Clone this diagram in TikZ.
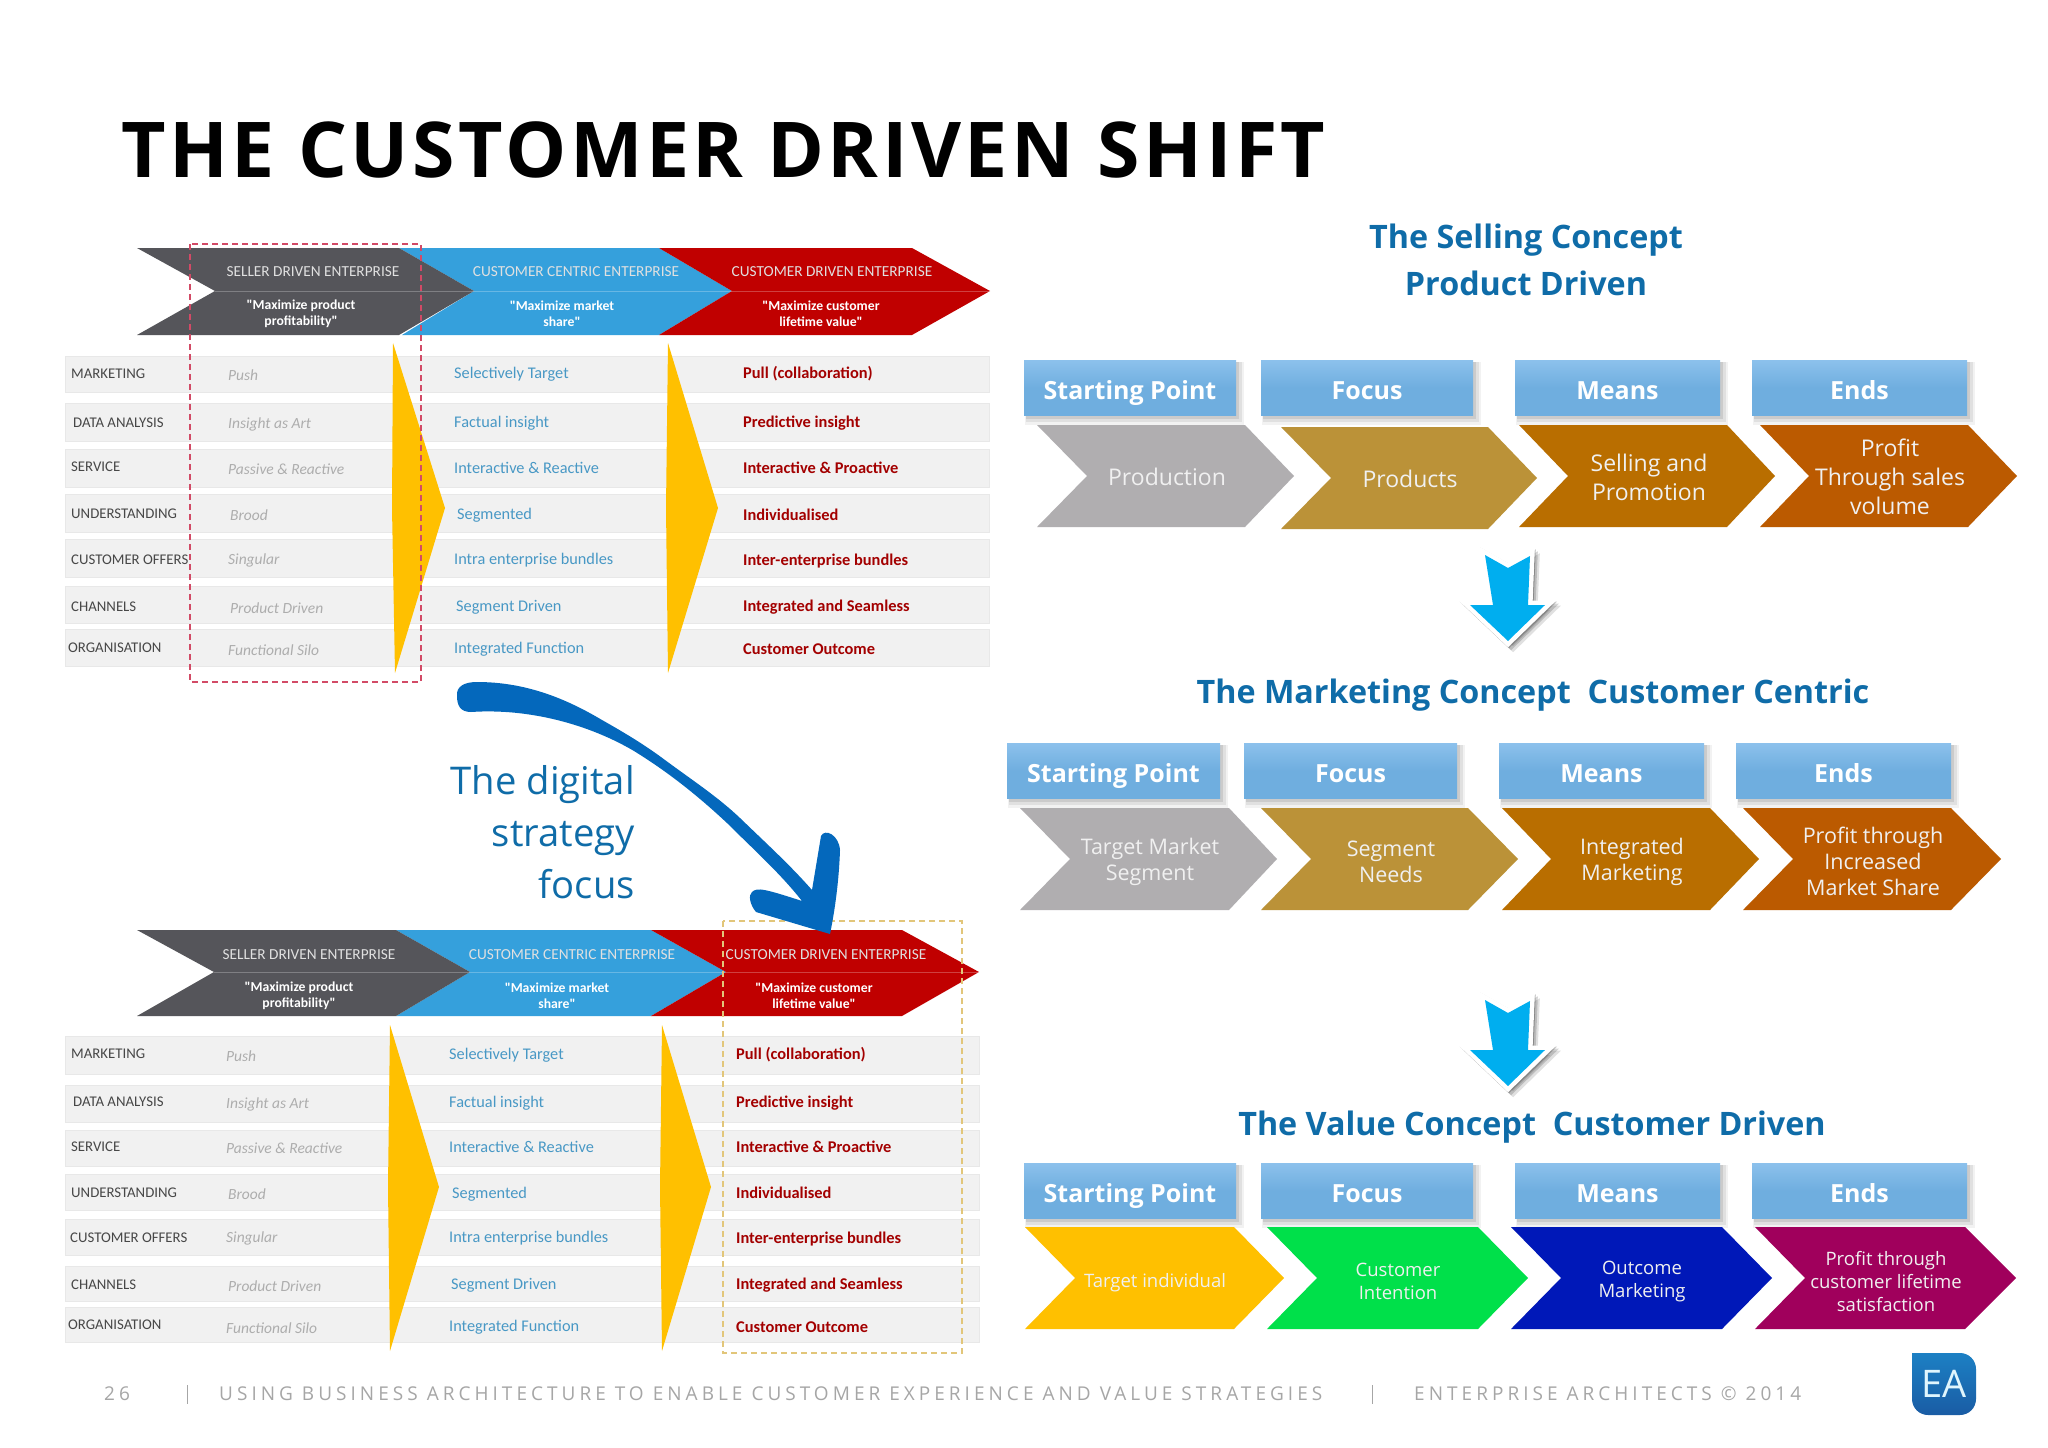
\documentclass[tikz,border=0pt]{standalone}
\usepackage{fontspec}
\setmainfont{Open Sans}
\newfontfamily\carl{Carlito}
\usetikzlibrary{shapes.geometric}
\definecolor{gb}{HTML}{55555A}
\definecolor{bb}{HTML}{35A0DC}
\definecolor{rb}{HTML}{C00000}
\definecolor{yel}{HTML}{FFC000}
\definecolor{headblue}{HTML}{0F6CA8}
\definecolor{bigblue}{HTML}{0468BC}
\definecolor{rowf}{HTML}{F1F1F1}
\definecolor{hdt}{HTML}{8CC1EC}
\definecolor{hdb}{HTML}{6FAEDF}
\definecolor{c1}{HTML}{B0AEB0}
\definecolor{c2}{HTML}{BB9238}
\definecolor{c3}{HTML}{B96E00}
\definecolor{c4}{HTML}{BB5A00}
\definecolor{foot}{HTML}{A6A6A6}
\definecolor{dn}{HTML}{00AEEF}
\definecolor{vgreen}{HTML}{00E04A}
\definecolor{vblue}{HTML}{0018B8}
\definecolor{vmag}{HTML}{A0005C}
\definecolor{reddash}{HTML}{D24A66}
\definecolor{tandash}{HTML}{E2C67A}
\definecolor{logot}{HTML}{1C80C4}
\definecolor{logob}{HTML}{1A5CA4}
\tikzset{
  lab/.style={anchor=west,inner sep=0pt,text=black!72,font=\carl\fontsize{14.8}{16}\selectfont},
  cola/.style={anchor=west,inner sep=0pt,text=black!32,font=\carl\itshape\fontsize{15.5}{17}\selectfont},
  colb/.style={anchor=west,inner sep=0pt,text=bb!75!gray,font=\carl\fontsize{16.3}{18}\selectfont},
  colc/.style={anchor=west,inner sep=0pt,text=rb!85!black,font=\carl\bfseries\fontsize{16.4}{18}\selectfont},
  bant/.style={inner sep=0pt,text=white!88!black,font=\carl\fontsize{15.3}{17}\selectfont},
  bans/.style={inner sep=0pt,text=white,align=center,font=\carl\bfseries\fontsize{13.7}{16}\selectfont},
  heading/.style={inner sep=0pt,text=headblue,align=center,font=\bfseries\fontsize{32.3}{47}\selectfont},
  hdrt/.style={inner sep=0pt,anchor=base,text=white,font=\bfseries\fontsize{25}{28}\selectfont},
  chevt/.style={inner sep=0pt,text=white!94!black,align=center,font=\fontsize{23}{29}\selectfont},
  chevm/.style={inner sep=0pt,text=white!94!black,align=center,font=\fontsize{21.5}{26}\selectfont},
  chevs/.style={inner sep=0pt,text=white!94!black,align=center,font=\fontsize{18.5}{23}\selectfont},
  foott/.style={inner sep=0pt,anchor=west,text=foot,font=\fontsize{19}{22}\selectfont\addfontfeature{LetterSpace=21.2}},
}
\newcommand\hdr[6]{%
  \fill[black,opacity=.05] (#2+1,#3+2) rectangle (#4+8,#5+10);
  \fill[black,opacity=.07] (#2+2,#3+2) rectangle (#4+6,#5+7);
  \fill[black,opacity=.09] (#2+2,#3+2) rectangle (#4+3,#5+4);
  \path[top color=hdt,bottom color=hdb,middle color=hdb] (#2,#3) rectangle (#4,#5);
  \node[hdrt] (#1) at ({(#2+#4)/2},{#5-16}) {#6};
}
\newcommand\chev[8]{\fill[#8] (#1,#5) -- (#2,#5) -- (#3,#6) -- (#2,#7) -- (#1,#7) -- (#4,#6) -- cycle;}
\newcommand\dnarrow[1]{%
  \begin{scope}[shift={(0,#1)}]
    \foreach \s/\o in {5/.12,3/.16,1/.2}
      \draw[black,opacity=\o,line width=9pt,line join=miter,fill=black] (1485+\s,1000+\s) -- (1508+\s,1013+\s) -- (1530+\s,1001+\s) -- (1528+\s,1050+\s) -- (1545+\s,1050+\s) -- (1508+\s,1086+\s) -- (1470+\s,1050+\s) -- (1493+\s,1050+\s) -- cycle;
    \draw[white,line width=9pt,line join=miter,fill=white] (1485,1000) -- (1508,1013) -- (1530,1001) -- (1528,1050) -- (1545,1050) -- (1508,1086) -- (1470,1050) -- (1493,1050) -- cycle;
    \fill[dn] (1485,1000) -- (1508,1013) -- (1530,1001) -- (1528,1050) -- (1545,1050) -- (1508,1086) -- (1470,1050) -- (1493,1050) -- cycle;
  \end{scope}}
\begin{document}
\begin{tikzpicture}[x=1pt,y=-1pt]
\useasboundingbox (0,0) rectangle (2048,1448);
\fill[white] (0,0) rectangle (2048,1448);
\node[inner sep=0pt,anchor=base west,font=\bfseries\fontsize{77}{80}\selectfont\addfontfeature{LetterSpace=4.6},text=black] (title) at (121,177) {THE CUSTOMER DRIVEN SHIFT};

% ---------- upper table
\foreach \a/\b in {356/392,403/441,449/487,494/532,539/577,586/623,629/666}
  \fill[rowf,draw=black!9,line width=.8pt] (65,\a) rectangle (989,\b);
\fill[yel] (393,343) -- (445,508) -- (395,673) -- (392,508) -- cycle;
\fill[yel] (668,343) -- (718,508) -- (668,673) -- (666,508) -- cycle;
\fill[bb] (399,248) -- (659,248) -- (732,291) -- (659,335) -- (402,335) -- (474,291) -- cycle;
\fill[rb] (659,248) -- (912,248) -- (990,291) -- (912,335) -- (659,335) -- (732,291) -- cycle;
\fill[gb] (137,248) -- (399,248) -- (474,291) -- (399,335) -- (137,335) -- (215,291) -- cycle;
\draw[white,opacity=.25,line width=1pt] (215,291) -- (990,291);
\node[bant] (ua) at (313,272) {SELLER DRIVEN ENTERPRISE};
\node[bant] (ub) at (576,272) {CUSTOMER CENTRIC ENTERPRISE};
\node[bant] (uc) at (832,272) {CUSTOMER DRIVEN ENTERPRISE};
\node[bans] (us1) at (301,314) {"Maximize product\\profitability"};
\node[bans] (us2) at (562,314) {"Maximize market\\share"};
\node[bans] (us3) at (821,314) {"Maximize customer\\lifetime value"};
\foreach \n/\x/\y/\t in {1/71/374/MARKETING,2/73/423/DATA ANALYSIS,3/71/467/SERVICE,4/71/514/UNDERSTANDING,5/71/560/CUSTOMER OFFERS,6/71/607/CHANNELS,7/68/648/ORGANISATION}
  \node[lab] (ul\n) at (\x,\y) {\t};
\foreach \n/\x/\y/\t in {1/228/375/Push,2/228/424/Insight as Art,3/228/469/Passive \& Reactive,4/230/515/Brood,5/228/560/Singular,6/230/608/Product Driven,7/228/650/Functional Silo}
  \node[cola] (um\n) at (\x,\y) {\t};
\foreach \n/\x/\y/\t in {1/454/374/Selectively Target,2/454/423/Factual insight,3/454/468/Interactive \& Reactive,4/457/515/Segmented,5/454/560/Intra enterprise bundles,6/456/607/Segment Driven,7/454/649/Integrated Function}
  \node[colb] (un\n) at (\x,\y) {\t};
\foreach \n/\y/\t in {1/374/Pull (collaboration),2/423/Predictive insight,3/468/Interactive \& Proactive,4/515/Individualised,5/561/Inter-enterprise bundles,6/607/Integrated and Seamless,7/649/Customer Outcome}
  \node[colc] (uo\n) at (743,\y) {\t};
\draw[reddash,line width=1.6pt,dash pattern=on 6pt off 4pt] (190,244) rectangle (421,682);

% ---------- lower table
\foreach \a/\b in {1036/1074,1085/1122,1130/1166,1174/1210,1219/1255,1266/1301,1307/1342}
  \fill[rowf,draw=black!9,line width=.8pt] (65,\a) rectangle (979,\b);
\fill[yel] (390,1025) -- (439,1187) -- (390,1351) -- (388,1187) -- cycle;
\fill[yel] (662,1025) -- (711,1187) -- (662,1351) -- (660,1187) -- cycle;
\fill[bb] (396,930) -- (651,930) -- (726,972) -- (651,1016) -- (396,1016) -- (470,972) -- cycle;
\fill[rb] (651,930) -- (902,930) -- (979,972) -- (902,1016) -- (651,1016) -- (726,972) -- cycle;
\fill[gb] (137,930) -- (396,930) -- (470,972) -- (396,1016) -- (137,1016) -- (214,972) -- cycle;
\draw[white,opacity=.25,line width=1pt] (214,972) -- (979,972);
\node[bant] (la) at (309,955) {SELLER DRIVEN ENTERPRISE};
\node[bant] (lb) at (572,955) {CUSTOMER CENTRIC ENTERPRISE};
\node[bant] (lc) at (826,955) {CUSTOMER DRIVEN ENTERPRISE};
\node[bans] (ls1) at (299,996) {"Maximize product\\profitability"};
\node[bans] (ls2) at (557,996) {"Maximize market\\share"};
\node[bans] (ls3) at (814,996) {"Maximize customer\\lifetime value"};
\foreach \n/\x/\y/\t in {1/71/1054/MARKETING,2/73/1102/DATA ANALYSIS,3/71/1147/SERVICE,4/71/1193/UNDERSTANDING,5/70/1238/CUSTOMER OFFERS,6/71/1285/CHANNELS,7/68/1325/ORGANISATION}
  \node[lab] (ll\n) at (\x,\y) {\t};
\foreach \n/\x/\y/\t in {1/226/1056/Push,2/226/1104/Insight as Art,3/226/1148/Passive \& Reactive,4/228/1194/Brood,5/226/1238/Singular,6/228/1286/Product Driven,7/226/1328/Functional Silo}
  \node[cola] (lm\n) at (\x,\y) {\t};
\foreach \n/\x/\y/\t in {1/449/1055/Selectively Target,2/449/1103/Factual insight,3/449/1147/Interactive \& Reactive,4/452/1194/Segmented,5/449/1238/Intra enterprise bundles,6/451/1285/Segment Driven,7/449/1327/Integrated Function}
  \node[colb] (ln\n) at (\x,\y) {\t};
\foreach \n/\y/\t in {1/1055/Pull (collaboration),2/1103/Predictive insight,3/1147/Interactive \& Proactive,4/1193/Individualised,5/1239/Inter-enterprise bundles,6/1285/Integrated and Seamless,7/1327/Customer Outcome}
  \node[colc] (lo\n) at (736,\y) {\t};
\draw[tandash,line width=1.4pt,dash pattern=on 6pt off 4pt] (723,921) rectangle (962,1353);

% ---------- big blue arrow and its label
\fill[bigblue] (457,696) .. controls (456,686) and (465,682) .. (477,682)
  .. controls (525,682) and (565,698) .. (602,720)
  .. controls (625,733) and (645,745) .. (665,760)
  .. controls (692,780) and (718,797) .. (740,818)
  .. controls (768,845) and (790,865) .. (812,890)
  -- (821,836) .. controls (825,828) and (839,835) .. (840,850)
  .. controls (839,880) and (835,910) .. (830,934)
  -- (756,912) .. controls (750,905) and (748,895) .. (752,892)
  .. controls (757,887) and (765,889) .. (802,901)
  .. controls (780,873) and (752,848) .. (727,823)
  .. controls (697,795) and (668,772) .. (634,751)
  .. controls (590,725) and (530,708) .. (471,712)
  .. controls (460,712) and (457,705) .. (457,696) -- cycle;
\node[inner sep=0pt,anchor=east,align=right,text=headblue,font=\fontsize{38.2}{52}\selectfont] (digital) at (635,832) {The digital\\strategy\\focus};

% ---------- selling concept
\node[heading] (h1) at (1526,260) {The Selling Concept\\Product Driven};
\hdr{a1}{1024}{360}{1236}{415}{Starting Point}
\hdr{a2}{1261}{360}{1473}{415}{Focus}
\hdr{a3}{1515}{360}{1720}{415}{Means}
\hdr{a4}{1752}{360}{1967}{415}{Ends}
\chev{1037}{1245}{1294}{1087}{425}{476}{527}{c1}
\chev{1281}{1488}{1537}{1331}{427}{478}{529}{c2}
\chev{1519}{1727}{1775}{1568}{425}{476}{527}{c3}
\chev{1760}{1968}{2017}{1809}{425}{476}{527}{c4}
\node[chevt] (s1) at (1167,477) {Production};
\node[chevt] (s2) at (1410,479) {Products};
\node[chevt] (s3) at (1649,477) {Selling and\\Promotion};
\node[chevt] (s4) at (1890,477) {Profit\\Through sales\\volume};
\dnarrow{-445}

% ---------- marketing concept
\node[heading] (h2) at (1533,695) {The Marketing Concept\ \ Customer Centric};
\hdr{b1}{1007}{743}{1220}{798}{Starting Point}
\hdr{b2}{1244}{743}{1457}{798}{Focus}
\hdr{b3}{1499}{743}{1704}{798}{Means}
\hdr{b4}{1736}{743}{1951}{798}{Ends}
\chev{1020}{1229}{1277}{1070}{808}{859}{910}{c1}
\chev{1261}{1468}{1518}{1311}{808}{859}{910}{c2}
\chev{1502}{1710}{1759}{1551}{808}{859}{910}{c3}
\chev{1743}{1951}{2001}{1793}{808}{859}{910}{c4}
\node[chevm] (m1) at (1150,862) {Target Market\\Segment};
\node[chevm] (m2) at (1391,862) {Segment\\Needs};
\node[chevm] (m3) at (1632,862) {Integrated\\Marketing};
\node[chevm] (m4) at (1873,861) {Profit through\\Increased\\Market Share};
\dnarrow{0}

% ---------- value concept
\node[heading] (h3) at (1532,1127) {The Value Concept\ \ Customer Driven};
\hdr{c1n}{1024}{1163}{1236}{1218}{Starting Point}
\hdr{c2n}{1261}{1163}{1473}{1218}{Focus}
\hdr{c3n}{1515}{1163}{1720}{1218}{Means}
\hdr{c4n}{1752}{1163}{1967}{1218}{Ends}
\chev{1025}{1234}{1284}{1075}{1227}{1278}{1329}{yel}
\chev{1267}{1478}{1528}{1317}{1227}{1278}{1329}{vgreen}
\chev{1511}{1722}{1772}{1561}{1227}{1278}{1329}{vblue}
\chev{1755}{1965}{2016}{1805}{1227}{1278}{1329}{vmag}
\node[chevs] (v1) at (1155,1283) {Target individual};
\node[chevs] (v2) at (1398,1281) {Customer\\Intention};
\node[chevs] (v3) at (1642,1281) {Outcome\\Marketing};
\node[chevs] (v4) at (1886,1281) {Profit through\\customer lifetime\\satisfaction};

% ---------- footer
\node[foott] (pg) at (104,1394) {26};
\node[foott] (ft) at (219,1394) {USING BUSINESS ARCHITECTURE TO ENABLE CUSTOMER EXPERIENCE AND VALUE STRATEGIES};
\node[foott] (co) at (1414,1394) {ENTERPRISE ARCHITECTS © 2014};
\draw[foot,line width=.8pt] (187,1385) -- (187,1404);
\draw[foot,line width=.8pt] (1372,1385) -- (1372,1404);
\path[top color=logot,bottom color=logob] (1912,1353) [rounded corners=16pt] -- (1976,1353) -- (1976,1415) -- (1912,1415) [sharp corners] -- cycle;
\node[inner sep=0pt,text=white!88!cyan,font=\fontsize{38}{40}\selectfont] (ea) at (1944,1384) {EA};
\end{tikzpicture}
\end{document}
